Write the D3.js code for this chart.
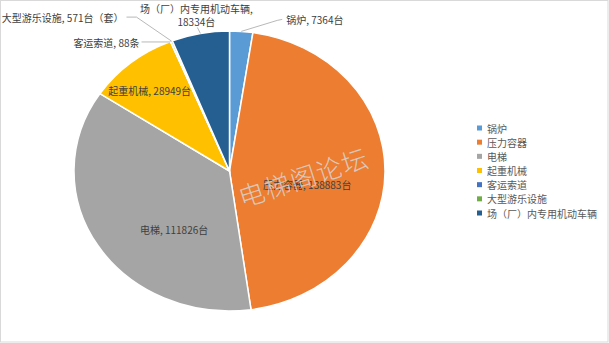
<!DOCTYPE html>
<html>
<head>
<meta charset="utf-8">
<script src="https://cdn.jsdelivr.net/npm/d3@7"></script>
<style>
  html, body { margin: 0; padding: 0; background: #fff; }
  svg { display: block; }
  text { font-family: "Noto Sans CJK SC", "Noto Sans", sans-serif; }
</style>
</head>
<body>
<svg id="chart" width="609" height="343"></svg>
<script>
// Special equipment counts by category
const categories = ["锅炉", "压力容器", "电梯", "起重机械", "客运索道", "大型游乐设施", "场（厂）内专用机动车辆"];
const values = [7364, 138883, 111826, 28949, 88, 571, 18334];
const units = ["台", "台", "台", "台", "条", "台（套）", "台"];
const colors = ["#5B9BD5", "#ED7D31", "#A5A5A5", "#FFC000", "#4472C4", "#70AD47", "#255E91"];

// Label placement: inside labels use a radius fraction plus nudge,
// outside labels use a leader line (edge -> elbow -> end) and a text offset.
const labelLayout = [
  { type: "out", elbow: [36, -11], end: [5, -1], text: [4, 0], anchor: "start" },
  { type: "in", rf: 0.5, nudge: [0, 13] },
  { type: "in", rf: 0.55, nudge: [17, 17] },
  { type: "in", rf: 0.9, nudge: [9, 17] },
  { type: "out", elbow: [-1, 0.5], end: [-28, 0], text: [-2, 1], anchor: "end" },
  { type: "out", elbow: [-35, -24], end: [-10, 0], text: [-3, 0], anchor: "end" },
  { type: "out", elbow: [-3, -6], end: [0, 0], text: [-1, -5.5], anchor: "middle", wrap: true }
];

const W = 609, H = 343;
const svg = d3.select("#chart");

// Chart area frame
svg.append("rect")
  .attr("x", 0.5).attr("y", 0.5)
  .attr("width", W - 1.5).attr("height", H - 1.5)
  .attr("fill", "#fff").attr("stroke", "#d9d9d9").attr("stroke-width", 1);

const cx = 229.5, cy = 171, r = 140, sx = 155.5 / 140;

const pie = d3.pie().sort(null).value(d => d)(values);
const arc = d3.arc().innerRadius(0).outerRadius(r);

const g = svg.append("g").attr("transform", `translate(${cx},${cy}) scale(${sx},1)`);
g.selectAll("path")
  .data(pie)
  .join("path")
  .attr("d", arc)
  .attr("fill", (d, i) => colors[i])
  .attr("stroke", "#fff")
  .attr("stroke-width", 1.5)
  .attr("vector-effect", "non-scaling-stroke");

// Map polar (angle from top, clockwise) to page coordinates
function polar(a, rad) {
  return [cx + Math.sin(a) * rad * sx, cy - Math.cos(a) * rad];
}

const labels = svg.append("g").attr("font-size", 10).attr("fill", "#404040");
const fmt = d => String(d);

pie.forEach((d, i) => {
  const L = labelLayout[i];
  const mid = (d.startAngle + d.endAngle) / 2;
  const txt = `${categories[i]}, ${fmt(values[i])}${units[i]}`;
  if (L.type === "in") {
    const p = polar(mid, r * L.rf);
    labels.append("text")
      .attr("x", p[0] + L.nudge[0]).attr("y", p[1] + L.nudge[1])
      .attr("text-anchor", "middle").attr("dominant-baseline", "central")
      .text(txt);
  } else {
    const e = polar(mid, r);
    const b = [e[0] + L.elbow[0], e[1] + L.elbow[1]];
    const t = [b[0] + L.end[0], b[1] + L.end[1]];
    labels.append("polyline")
      .attr("points", [e, b, t].map(p => p.join(",")).join(" "))
      .attr("fill", "none").attr("stroke", "#a6a6a6").attr("stroke-width", 0.8);
    const tx = t[0] + L.text[0], ty = t[1] + L.text[1];
    if (L.wrap) {
      // two-line label, each line its own text element
      [`${categories[i]},`, `${fmt(values[i])}${units[i]}`].forEach((s, k) => {
        labels.append("text")
          .attr("x", tx).attr("y", ty - (1 - k) * 13.5)
          .attr("text-anchor", "middle").attr("dominant-baseline", "central")
          .text(s);
      });
    } else {
      labels.append("text")
        .attr("x", tx).attr("y", ty)
        .attr("text-anchor", L.anchor).attr("dominant-baseline", "central")
        .text(txt);
    }
  }
});

// Legend
const legend = svg.append("g").attr("transform", "translate(477,128)");
const ly = d3.scalePoint().domain(categories).range([0, 85]);
const item = legend.selectAll("g").data(categories).join("g")
  .attr("transform", d => `translate(0,${ly(d)})`);
item.append("rect")
  .attr("x", 0).attr("y", -2.5).attr("width", 5).attr("height", 5)
  .attr("fill", (d, i) => colors[i]);
item.append("text")
  .attr("x", 10).attr("y", 0)
  .attr("dominant-baseline", "central")
  .attr("font-size", 10).attr("fill", "#595959")
  .text(d => d);

// Watermark
svg.append("text")
  .attr("transform", "translate(303,176) rotate(-18)")
  .attr("text-anchor", "middle").attr("dominant-baseline", "central")
  .attr("font-size", 26).attr("font-weight", 300)
  .attr("letter-spacing", 1)
  .attr("fill", "#d6d6d6").attr("fill-opacity", 0.85)
  .text("电梯阁论坛");
</script>
</body>
</html>
